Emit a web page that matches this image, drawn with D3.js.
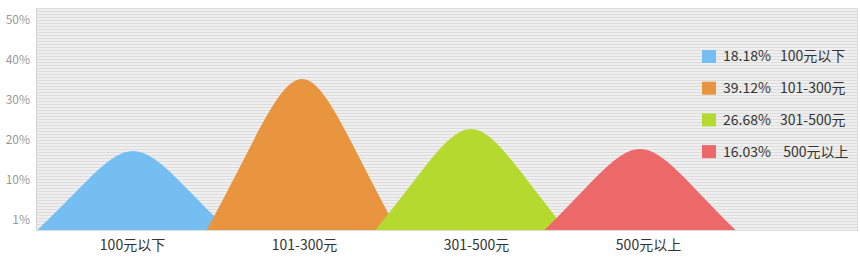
<!DOCTYPE html>
<html>
<head>
<meta charset="utf-8">
<script src="https://cdn.jsdelivr.net/npm/d3@7"></script>
<style>
  body { margin: 0; background: #fff; }
  svg text { font-family: "Microsoft YaHei", "Noto Sans CJK SC", sans-serif; }
</style>
</head>
<body>
<svg id="chart"></svg>
<script>
// categories on the x axis
const categories = ["100元以下", "101-300元", "301-500元", "500元以上"];
// drawn peak height of each mountain (%)
const peaks = [17.1, 35.1, 22.6, 17.6];
// percentages shown in the legend
const shares = ["18.18%", "39.12%", "26.68%", "16.03%"];
const legendNames = ["100元以下", "101-300元", "301-500元", " 500元以上"];
const colors = ["#75bef2", "#e9943f", "#b5d92f", "#ec6869"];
// y tick values and the labels printed for them
const tickValues = [50, 40, 30, 20, 10, 0];
const tickLabels = ["50%", "40%", "30%", "20%", "10%", "1%"];

const width = 860, height = 265;
const plot = { left: 36, right: 858, top: 8, bottom: 230 };

const svg = d3.select("#chart")
  .attr("width", width)
  .attr("height", height);

// striped background
const defs = svg.append("defs");
const pat = defs.append("pattern")
  .attr("id", "stripes")
  .attr("patternUnits", "userSpaceOnUse")
  .attr("width", 4)
  .attr("height", 3);
pat.append("rect").attr("width", 4).attr("height", 3).attr("fill", "#efefef");
pat.append("rect").attr("y", 2).attr("width", 4).attr("height", 1).attr("fill", "#dcdcdc");

svg.append("rect")
  .attr("x", plot.left)
  .attr("y", plot.top)
  .attr("width", plot.right - plot.left)
  .attr("height", plot.bottom - plot.top)
  .attr("fill", "url(#stripes)");

// labels and mountains are not on quite the same spacing in the original
const x = d3.scalePoint()
  .domain(categories)
  .range([132, 648]);
const xPeak = d3.scalePoint()
  .domain(categories)
  .range([133, 640]);

const y = d3.scaleLinear()
  .domain([0, 50])
  .range([219.5, 19.5]);

const halfWidth = xPeak.step() * 0.565;

// bell shaped mountain: straight-ish flanks, rounded top
function mountain(cx, top) {
  const b = plot.bottom, w = halfWidth, h = b - top;
  const p = d3.path();
  p.moveTo(cx - w, b);
  p.bezierCurveTo(cx - w * 0.5, b - h * 0.57, cx - w * 0.25, top, cx, top);
  p.bezierCurveTo(cx + w * 0.25, top, cx + w * 0.5, b - h * 0.57, cx + w, b);
  p.closePath();
  return p.toString();
}

const clip = defs.append("clipPath").attr("id", "plotClip");
clip.append("rect")
  .attr("x", plot.left)
  .attr("y", plot.top)
  .attr("width", plot.right - plot.left)
  .attr("height", plot.bottom - plot.top);

svg.append("g")
  .attr("clip-path", "url(#plotClip)")
  .selectAll("path")
  .data(categories)
  .join("path")
  .attr("d", (d, i) => mountain(xPeak(d), y(peaks[i])))
  .attr("fill", (d, i) => colors[i]);

// plot frame
svg.append("line")
  .attr("x1", plot.left + 0.5).attr("x2", plot.left + 0.5)
  .attr("y1", plot.top).attr("y2", plot.bottom)
  .attr("stroke", "#d0d0d0");
svg.append("line")
  .attr("x1", plot.left).attr("x2", plot.right)
  .attr("y1", plot.bottom + 0.5).attr("y2", plot.bottom + 0.5)
  .attr("stroke", "#dddddd");
svg.append("line")
  .attr("x1", plot.right - 0.5).attr("x2", plot.right - 0.5)
  .attr("y1", plot.top).attr("y2", plot.bottom)
  .attr("stroke", "#dddddd");

// y axis labels
const yAxis = d3.axisLeft(y)
  .tickValues(tickValues)
  .tickSize(0)
  .tickPadding(6)
  .tickFormat((d, i) => tickLabels[i]);
const gy = svg.append("g")
  .attr("transform", `translate(${plot.left},0)`)
  .call(yAxis);
gy.select(".domain").remove();
gy.selectAll("text")
  .attr("fill", "#999")
  .style("font-size", "12px");

// x axis labels
const xAxis = d3.axisBottom(x).tickSize(0).tickPadding(10);
const gx = svg.append("g")
  .attr("transform", `translate(0,${plot.bottom})`)
  .call(xAxis);
gx.select(".domain").remove();
gx.selectAll("text")
  .attr("fill", "#333")
  .style("font-size", "14px");

// legend
const legend = svg.append("g")
  .selectAll("g")
  .data(legendNames)
  .join("g")
  .attr("transform", (d, i) => `translate(702,${50 + i * 31.7})`);
legend.append("rect")
  .attr("width", 14)
  .attr("height", 13)
  .attr("fill", (d, i) => colors[i]);
legend.append("text")
  .attr("x", 21)
  .attr("y", 6.5)
  .attr("dy", "0.35em")
  .attr("fill", "#333")
  .style("font-size", "14px")
  .text((d, i) => shares[i]);
legend.append("text")
  .attr("x", 78)
  .attr("y", 6.5)
  .attr("dy", "0.35em")
  .attr("fill", "#333")
  .style("font-size", "14px")
  .style("white-space", "pre")
  .text(d => d);
</script>
</body>
</html>
